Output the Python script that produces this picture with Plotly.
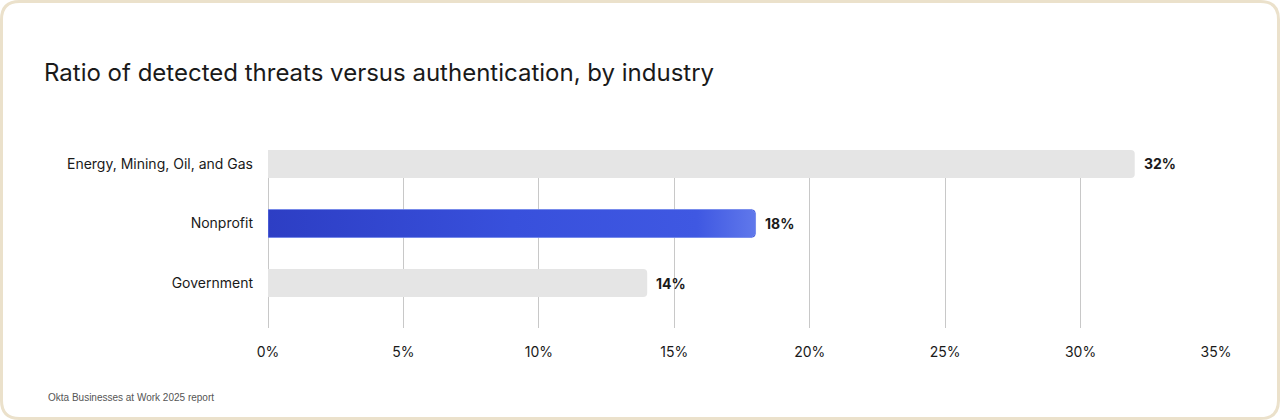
import plotly.graph_objects as go

# data
industries = ["Energy, Mining, Oil, and Gas", "Nonprofit", "Government"]
ratios = [32, 18, 14]
highlight = "Nonprofit"
x_ticks = [0, 5, 10, 15, 20, 25, 30, 35]

W, H = 1280, 420
ML, MR, MT, MB = 268, 64, 150, 92
PW, PH = W - ML - MR, H - MT - MB
BAR_W = 0.47


def px(x):
    return (x - ML) / PW


def py(y):
    return (H - MB - y) / PH


def rounded_path(x0, y0, x1, y1, r):
    pts = [
        f"M {px(x0 + r)} {py(y0)}",
        f"L {px(x1 - r)} {py(y0)}",
        f"Q {px(x1)} {py(y0)} {px(x1)} {py(y0 + r)}",
        f"L {px(x1)} {py(y1 - r)}",
        f"Q {px(x1)} {py(y1)} {px(x1 - r)} {py(y1)}",
        f"L {px(x0 + r)} {py(y1)}",
        f"Q {px(x0)} {py(y1)} {px(x0)} {py(y1 - r)}",
        f"L {px(x0)} {py(y0 + r)}",
        f"Q {px(x0)} {py(y0)} {px(x0 + r)} {py(y0)}",
        "Z",
    ]
    return " ".join(pts)


pos = list(range(len(industries)))
colors = ["#3a52dc" if c == highlight else "#e5e5e5" for c in industries]

fig = go.Figure()
fig.add_trace(go.Bar(
    y=pos, x=ratios, orientation="h",
    marker=dict(color=colors, line=dict(width=0), cornerradius=4),
    width=BAR_W, hoverinfo="skip",
))

# gradient overlay on the highlighted bar
i = industries.index(highlight)
v = ratios[i]
rx, ry = 0.14, 0.06
y0, y1 = i - BAR_W / 2, i + BAR_W / 2
fig.add_trace(go.Scatter(
    x=[0, v - rx, v, v, v - rx, 0, 0],
    y=[y0, y0, y0 + ry, y1 - ry, y1, y1, y0],
    mode="lines", fill="toself",
    line=dict(color="rgba(125,145,238,0.7)", width=1),
    fillgradient=dict(type="horizontal", colorscale=[
        [0, "#2d3ec4"], [0.5, "#3850dc"], [0.88, "#3f58e2"], [1, "#6078eb"],
    ]),
    hoverinfo="skip",
))

fig.update_layout(
    width=W, height=H,
    margin=dict(l=ML, r=MR, t=MT, b=MB),
    paper_bgcolor="white", plot_bgcolor="white",
    showlegend=False,
    font=dict(family="Inter", size=14, color="#1a1a1a"),
    title=dict(
        text="Ratio of detected threats versus authentication, by industry",
        x=44 / W, xanchor="left", y=1 - 73 / H, yanchor="middle",
        font=dict(family="Inter", size=24, color="#1a1a1a"),
    ),
    shapes=[dict(
        type="path", xref="paper", yref="paper", layer="below",
        path=rounded_path(1.5, 1.5, W - 1.5, H - 1.5, 18),
        line=dict(color="#ebe1cb", width=3), fillcolor="rgba(0,0,0,0)",
    )],
    annotations=[dict(
        text="Okta Businesses at Work 2025 report",
        xref="paper", yref="paper", x=px(46), y=py(397),
        xanchor="left", yanchor="middle", showarrow=False,
        font=dict(family="Liberation Sans", size=10, color="#555555"),
    )] + [dict(
        text=f"{r}%", x=r, y=p, xref="x", yref="y",
        xanchor="left", yanchor="middle", xshift=7, showarrow=False,
        font=dict(family="Inter", size=14, color="#1a1a1a", weight=700),
    ) for r, p in zip(ratios, pos)],
)

fig.update_xaxes(
    range=[0, 35], tickvals=x_ticks, ticktext=[f"{t}%" for t in x_ticks],
    showgrid=True, gridcolor="#c8c8c8", gridwidth=1,
    zeroline=True, zerolinecolor="#c8c8c8", zerolinewidth=1,
    showline=False, ticks="", ticklabelstandoff=14,
    tickfont=dict(family="Inter", size=14, color="#1a1a1a"),
    fixedrange=True,
)
fig.update_yaxes(
    tickvals=pos, ticktext=industries,
    range=[2.756, -0.235], showgrid=False, zeroline=False, showline=False,
    ticks="", ticklabelstandoff=14,
    tickfont=dict(family="Inter", size=14, color="#1a1a1a"),
    fixedrange=True,
)

fig.write_html(
    "out.html",
    config={"displayModeBar": False, "staticPlot": True},
    post_script="document.body.style.margin='0px';",
)
